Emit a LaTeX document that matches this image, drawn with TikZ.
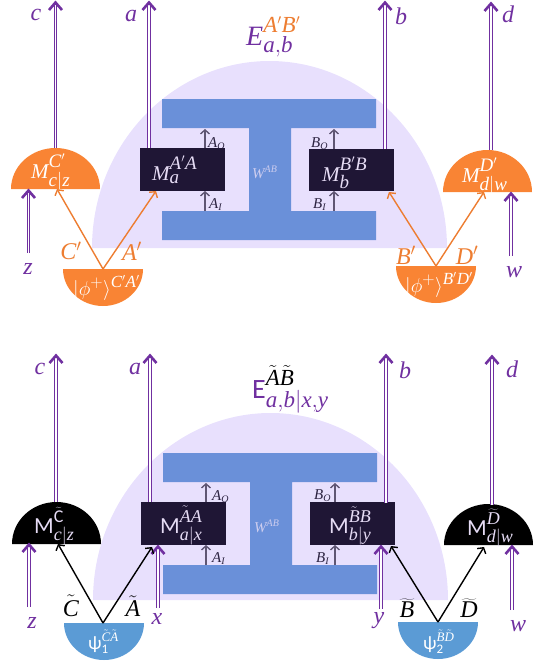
\RequirePackage{fix-cm}
\documentclass[tikz,border=0pt]{standalone}
\usepackage{fontspec}
\setmainfont{Liberation Serif}
\setsansfont{Carlito}
\usetikzlibrary{arrows.meta,calc}
\DeclareMathSizes{28}{28}{23}{14}
\DeclareMathSizes{24}{24}{17}{12}
\DeclareMathSizes{23}{23}{18}{12}
\DeclareMathSizes{21}{21}{19}{12}
\DeclareMathSizes{20}{20}{17}{11}
\DeclareMathSizes{19}{19}{13}{10}
\DeclareMathSizes{15}{15}{10}{8}
\definecolor{pur}{HTML}{7030A0}
\definecolor{bgl}{HTML}{E8E0FD}
\definecolor{barb}{HTML}{6A90D9}
\definecolor{dk}{HTML}{1F1635}
\definecolor{org}{HTML}{F98434}
\definecolor{orl}{HTML}{ED7D31}
\definecolor{blu}{HTML}{5B9BD5}
\definecolor{gry}{HTML}{5F5673}
\definecolor{lav}{HTML}{E6DCF5}
\tikzset{
 dblline/.style={draw=pur,line width=.9pt,double=white,double distance=1.3pt},
 dbltip/.style={draw=pur,line width=2.6pt,line join=miter,miter limit=10},
 grayarrow/.style={draw=gry,line width=1.4pt,-{Straight Barb[line width=1.4pt,length=4pt,width=9pt]}},
 orarrow/.style={draw=orl,line width=1.4pt,-{Straight Barb[line width=1.4pt,length=4pt,width=10pt]}},
 blkarrow/.style={draw=black,line width=1.4pt,-{Straight Barb[line width=1.4pt,length=4pt,width=10pt]}},
 lab/.style={inner sep=0pt,font=\fontsize{24}{26}\selectfont,text=pur},
 qlab/.style={inner sep=0pt,font=\fontsize{24}{26}\selectfont},
 smalllab/.style={inner sep=0pt,anchor=base west,font=\fontsize{15}{17}\selectfont,text=dk!80!gry},
 meas/.style={inner sep=0pt,anchor=base west,font=\fontsize{21}{23}\selectfont},
 measup/.style={meas,font=\fontsize{23}{25}\selectfont},
 stat/.style={inner sep=0pt,anchor=base west,font=\fontsize{20}{22}\selectfont,text=white},
 psi/.style={inner sep=0pt,anchor=base west,font=\fontsize{19}{21}\selectfont,text=white},
 wlab/.style={inner sep=0pt,anchor=base west,font=\fontsize{15}{17}\selectfont,text=lav!80!barb},
 evlab/.style={inner sep=0pt,anchor=base west,font=\fontsize{28}{30}\selectfont,text=pur},
 boxn/.style={fill=dk,inner sep=0pt,minimum width=85pt,minimum height=43pt},
}
\newcommand{\I}[1]{\mathit{#1}}
\newcommand{\SM}{\mathsf{M}}
\newcommand{\SP}{\vrule width 0pt height 0pt depth 3pt\relax}
\newcommand{\semi}[5]{\fill[#5] (#1-#3,#2) .. controls (#1-#3,#2-.5523*#4) and (#1-.5523*#3,#2-#4) .. (#1,#2-#4) .. controls (#1+.5523*#3,#2-#4) and (#1+#3,#2-.5523*#4) .. (#1+#3,#2) -- cycle;}
\newcommand{\ishape}[2]{\fill[barb] (#1,#2) -- ++(214,0) -- ++(0,29) -- ++(-85,0) -- ++(0,83) -- ++(85,0) -- ++(0,29) -- ++(-214,0) -- ++(0,-29) -- ++(87,0) -- ++(0,-83) -- ++(-87,0) -- cycle;}
\newcommand{\dome}[2]{\fill[bgl] (#1,#2) .. controls (#1,#2-103) and (#1+80,#2-187) .. (#1+177.5,#2-187) .. controls (#1+275,#2-187) and (#1+355,#2-103) .. (#1+355,#2) -- cycle;}
\newcommand{\darrow}[2]{\draw[dblline] (#1) -- ($(#2)+(0,3)$); \draw[dbltip] ($(#2)+(-6.5,10)$) -- ($(#2)+(0,2.5)$) -- ($(#2)+(6.5,10)$);}
\begin{document}
\begin{tikzpicture}[x=1pt,y=-1pt]
\useasboundingbox (0,0) rectangle (545,667);
% ===== top panel =====
\dome{92}{248}
\node[smalllab] (lao) at (208,147) {$\I{A}_{\I{O}}$};
\node[smalllab] (lai) at (209,208) {$\I{A}_{\I{I}}$};
\node[smalllab] (lbo) at (311,147) {$\I{B}_{\I{O}}$};
\node[smalllab] (lbi) at (313,208) {$\I{B}_{\I{I}}$};
\ishape{162}{99}
\node[wlab] (w1) at (252,178) {$\I{W}^{\I{AB}}$};
\node[boxn] (ma) at (182.5,169.5) {};
\node[boxn,minimum height=42pt] (mb) at (351.5,170) {};
\node[meas,text=lav] (mat) at (152,180) {$\I{M}_{\I{a}}^{\SP\I{A}'\I{A}}$};
\node[meas,text=lav] (mbt) at (322,181) {$\I{M}_{\I{b}}^{\SP\I{B}'\I{B}}$};
\semi{55.5}{189}{44.5}{41}{org}
\semi{487.5}{192}{44.5}{42}{org}
\semi{103}{269}{40}{-37}{org}
\semi{436}{266}{40}{-37}{org}
\node[meas,text=white] (mc) at (31,178) {$\I{M}_{\I{c}|\I{z}}^{\SP\I{C}'}$};
\node[meas,text=white] (md) at (462,182) {$\I{M}_{\I{d}|\I{w}}^{\SP\I{D}'}$};
\node[stat] (ph1) at (73,295) {$|\phi^{+}\rangle^{\I{C}'\I{A}'}$};
\node[stat] (ph2) at (405,292) {$|\phi^{+}\rangle^{\I{B}'\I{D}'}$};
\coordinate (gao) at (205,148); \coordinate (gao2) at (205,129);
\coordinate (gai) at (205,211); \coordinate (gai2) at (205,191);
\coordinate (gbo) at (334,149); \coordinate (gbo2) at (334,129);
\coordinate (gbi) at (334,211); \coordinate (gbi2) at (334,191);
\draw[grayarrow] (gao) -- (gao2);
\draw[grayarrow] (gai) -- (gai2);
\draw[grayarrow] (gbo) -- (gbo2);
\draw[grayarrow] (gbi) -- (gbi2);
\coordinate (c0) at (55.5,148); \coordinate (c1) at (55.5,0);
\coordinate (a0) at (149,148); \coordinate (a1) at (149,0);
\coordinate (b0) at (385,149); \coordinate (b1) at (385,0);
\coordinate (d0) at (491,150); \coordinate (d1) at (491,1);
\coordinate (z0) at (28.5,253); \coordinate (z1) at (28.5,188);
\coordinate (w0) at (511,256); \coordinate (w1c) at (511,191);
\darrow{c0}{c1}
\darrow{a0}{a1}
\darrow{b0}{b1}
\darrow{d0}{d1}
\darrow{z0}{z1}
\darrow{w0}{w1c}
\coordinate (s1) at (103,269); \coordinate (s2) at (436,266);
\coordinate (t1) at (57,189); \coordinate (t2) at (156,191);
\coordinate (t3) at (389,192); \coordinate (t4) at (484,192);
\draw[orarrow] (s1) -- (t1);
\draw[orarrow] (s1) -- (t2);
\draw[orarrow] (s2) -- (t3);
\draw[orarrow] (s2) -- (t4);
\node[lab] (lc) at (36,15) {$\I{c}$};
\node[lab] (la) at (131,16) {$\I{a}$};
\node[lab] (lb) at (401,16) {$\I{b}$};
\node[lab] (ld) at (508,14) {$\I{d}$};
\node[lab] (lz) at (28,269) {$\I{z}$};
\node[lab] (lw) at (514,272) {$\I{w}$};
\node[qlab,text=orl] (lC) at (71,251) {$\I{C}'$};
\node[qlab,text=orl] (lA) at (132,251) {$\I{A}'$};
\node[qlab,text=orl] (lB) at (406,255) {$\I{B}'$};
\node[qlab,text=orl] (lD) at (467,255) {$\I{D}'$};
\node[evlab] (e1) at (246,45) {$\I{E}_{\I{a},\I{b}}^{\SP\textcolor{orl}{\I{A}'\I{B}'}}$};
% ===== bottom panel =====
\dome{93}{600}
\node[smalllab] (lao2) at (212,500) {$\I{A}_{\I{O}}$};
\node[smalllab] (lai2) at (212,562) {$\I{A}_{\I{I}}$};
\node[smalllab] (lbo2) at (314,499) {$\I{B}_{\I{O}}$};
\node[smalllab] (lbi2) at (316,562) {$\I{B}_{\I{I}}$};
\ishape{163}{453}
\node[wlab] (w2) at (254,532) {$\I{W}^{\I{AB}}$};
\node[boxn] (ma2) at (183.5,523.5) {};
\node[boxn] (mb2) at (352.5,523.5) {};
\semi{56.5}{544}{44.5}{42}{black}
\semi{488.5}{545}{44.5}{41}{black}
\semi{104}{623}{40}{-37}{blu}
\semi{438}{622}{40}{-37}{blu}
\node[measup,text=lav] (mat2) at (160,533) {$\SM_{\I{a}|\I{x}}^{\SP\tilde{\I{A}}\I{A}}$};
\node[measup,text=lav] (mbt2) at (329,533) {$\SM_{\I{b}|\I{y}}^{\SP\tilde{\I{B}}\I{B}}$};
\node[measup,text=lav] (mc2) at (34,533) {$\SM_{\I{c}|\I{z}}^{\SP\widetilde{\mathsf{C}}}$};
\node[measup,text=lav] (md2) at (467,535) {$\SM_{\I{d}|\I{w}}^{\SP\widetilde{\I{D}}}$};
\node[psi] (ps1) at (88,649) {$\mbox{\sffamily ψ}_{\mathsf{1}}^{\tilde{\I{C}}\tilde{\I{A}}}$};
\node[psi] (ps2) at (423,649) {$\mbox{\sffamily ψ}_{\mathsf{2}}^{\tilde{\I{B}}\tilde{\I{D}}}$};
\coordinate (hao) at (206,502); \coordinate (hao2) at (206,483);
\coordinate (hai) at (206,565); \coordinate (hai2) at (206,545);
\coordinate (hbo) at (335,502); \coordinate (hbo2) at (335,483);
\coordinate (hbi) at (335,565); \coordinate (hbi2) at (335,545);
\draw[grayarrow] (hao) -- (hao2);
\draw[grayarrow] (hai) -- (hai2);
\draw[grayarrow] (hbo) -- (hbo2);
\draw[grayarrow] (hbi) -- (hbi2);
\coordinate (c2) at (56,502); \coordinate (c3) at (56,353);
\coordinate (a2) at (150,502); \coordinate (a3) at (150,353);
\coordinate (b2) at (386,503); \coordinate (b3) at (386,353);
\coordinate (d2) at (492,505); \coordinate (d3) at (492,354);
\coordinate (z2) at (29,607); \coordinate (z3) at (29,542);
\coordinate (x2) at (158,608); \coordinate (x3) at (158,544);
\coordinate (y2) at (381,609); \coordinate (y3) at (381,544);
\coordinate (w2c) at (512,610); \coordinate (w3) at (512,544);
\darrow{c2}{c3}
\darrow{a2}{a3}
\darrow{b2}{b3}
\darrow{d2}{d3}
\darrow{z2}{z3}
\darrow{x2}{x3}
\darrow{y2}{y3}
\darrow{w2c}{w3}
\coordinate (s3) at (103,623); \coordinate (s4) at (438,622);
\coordinate (t5) at (58,544); \coordinate (t6) at (152,547);
\coordinate (t7) at (391,546); \coordinate (t8) at (484,547);
\draw[blkarrow] (s3) -- (t5);
\draw[blkarrow] (s3) -- (t6);
\draw[blkarrow] (s4) -- (t7);
\draw[blkarrow] (s4) -- (t8);
\node[lab] (lc2) at (40,369) {$\I{c}$};
\node[lab] (la2) at (135,369) {$\I{a}$};
\node[lab] (lb2) at (405,370) {$\I{b}$};
\node[lab] (ld2) at (512,369) {$\I{d}$};
\node[lab] (lz2) at (32,623) {$\I{z}$};
\node[lab] (lx2) at (157,619) {$\I{x}$};
\node[lab] (ly2) at (379,621) {$\I{y}$};
\node[lab] (lw2) at (518,626) {$\I{w}$};
\node[qlab] (lC2) at (71,606) {$\tilde{\I{C}}$};
\node[qlab] (lA2) at (133,606) {$\tilde{\I{A}}$};
\node[qlab] (lB2) at (407,608) {$\widetilde{\I{B}}$};
\node[qlab] (lD2) at (469,608) {$\widetilde{\I{D}}$};
\node[evlab] (e2) at (252,398) {$\mathsf{E}_{\I{a},\I{b}|\I{x},\I{y}}^{\SP\textcolor{black}{\tilde{\I{A}}\tilde{\I{B}}}}$};
\end{tikzpicture}
\end{document}
